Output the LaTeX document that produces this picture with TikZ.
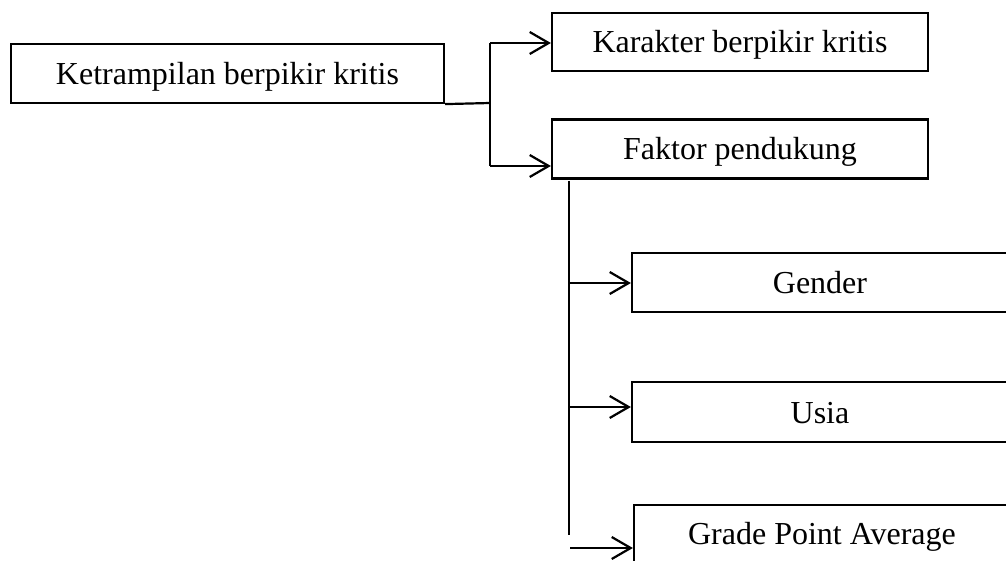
\documentclass[tikz,border=0pt]{standalone}
\usepackage{fontspec}
\setmainfont{Liberation Serif}
\usetikzlibrary{arrows.meta}
\begin{document}
\begin{tikzpicture}[x=1pt,y=-1pt,
  box/.style={draw,line width=2.2pt,rectangle,inner sep=0pt,text height=22pt,text depth=0pt,font=\fontsize{32}{36}\selectfont},
  link/.style={line width=2.2pt},
  arr/.style={line width=2.2pt,-{Straight Barb[length=19pt,width=22pt,line width=2.2pt]}}]
\clip (0,0) rectangle (1006,561);
\fill[white] (0,0) rectangle (1006,561);
% boxes
\node[box,minimum width=433pt,minimum height=59pt] (b1) at (227.5,73.5) {Ketrampilan berpikir kritis};
\node[box,minimum width=376pt,minimum height=58pt] (b2) at (740,42) {Karakter berpikir kritis};
\node[box,minimum width=376pt,minimum height=59pt] (b3) at (740,149) {Faktor pendukung};
\node[box,minimum width=376pt,minimum height=59pt] (g) at (820,282.5) {Gender};
\node[box,minimum width=376pt,minimum height=60pt] (u) at (820,412) {Usia};
\node[box,minimum width=376pt,minimum height=60pt,text depth=4pt] (gpa) at (822,535) {Grade Point Average};
% connectors top level
\coordinate (j1) at (490,103);
\coordinate (jtop) at (490,43);
\coordinate (jbot) at (490,166);
\draw[link] (b1.south east) -- (j1);
\draw[link] (jtop) -- (jbot);
\draw[arr] (jtop) -- (jtop -| b2.west);
\draw[arr] (jbot) -- (jbot -| b3.west);
% connectors second level
\coordinate (v0) at (569,181);
\coordinate (v1) at (569,535);
\coordinate (ag) at (569,283);
\coordinate (au) at (569,407);
\coordinate (ap) at (570,548);
\draw[link] (v0) -- (v1);
\draw[arr] (ag) -- (ag -| g.west);
\draw[arr] (au) -- (au -| u.west);
\draw[arr] (ap) -- (ap -| gpa.west);
\end{tikzpicture}
\end{document}
